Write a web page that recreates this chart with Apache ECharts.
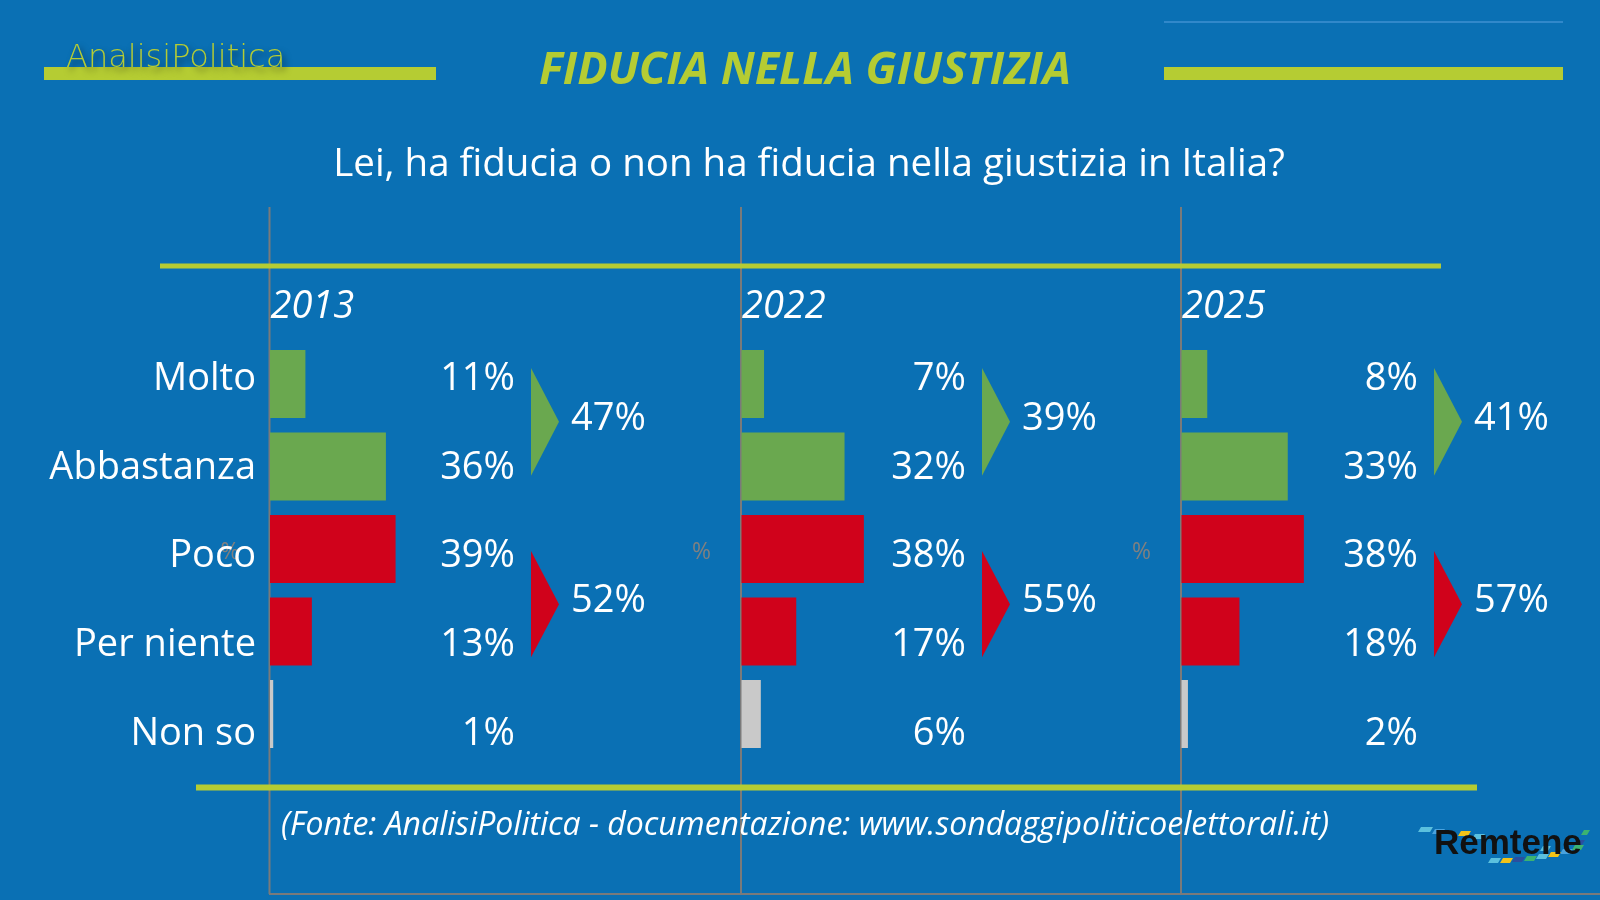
<!DOCTYPE html>
<html><head><meta charset="utf-8">
<script src="https://cdn.jsdelivr.net/npm/echarts@6/dist/echarts.min.js"></script>
<style>html,body{margin:0;padding:0;background:#0a70b4}#c{width:1600px;height:900px}</style>
</head><body><div id="c"></div>
<script>
// ---- data ----
const categories = ['Molto', 'Abbastanza', 'Poco', 'Per niente', 'Non so'];
const years = ['2013', '2022', '2025'];
const values2013 = [11, 36, 39, 13, 1];
const values2022 = [7, 32, 38, 17, 6];
const values2025 = [8, 33, 38, 18, 2];
const fiduciaTot = [47, 39, 41];     // Molto + Abbastanza
const sfiduciaTot = [52, 55, 57];    // Poco + Per niente
const titleText = 'FIDUCIA NELLA GIUSTIZIA';
const subtitleText = 'Lei, ha fiducia o non ha fiducia nella giustizia in Italia?';
const sourceText = '(Fonte: AnalisiPolitica - documentazione: www.sondaggipoliticoelettorali.it)';

// ---- styles / layout ----
const panelValues = [values2013, values2022, values2025];
const GREEN = '#6aa84f', RED = '#d0021b', GREY = '#c9c9c9', LIME = '#b5cc33';
const catColors = [GREEN, GREEN, RED, RED, GREY];
const axisX = [269.5, 741, 1181];
const valueRight = [515, 966, 1418];
const arrowPad = [[-11, 8], [-5.5, 12]];
const FONT = '"Open Sans", "Noto Sans", sans-serif';

const chart = echarts.init(document.getElementById('c'));

const grid = [], xAxis = [], yAxis = [], series = [];
for (let i = 0; i < 3; i++) {
  grid.push({left: axisX[i] + 0.5, top: 342.75, width: 322, height: 412.5});
  const ll = i === 0 ? 264 : axisX[i];
  grid.push({left: ll, top: 334.5, width: valueRight[i] - ll, height: 444});
  xAxis.push({gridIndex: 2 * i, type: 'value', min: 0, max: 100, show: false});
  xAxis.push({gridIndex: 2 * i + 1, type: 'value', min: 0, max: 1, show: false});
  const byi = yAxis.length;
  yAxis.push({gridIndex: 2 * i, type: 'category', data: categories, inverse: true, show: false});
  const lyi = yAxis.length;
  yAxis.push({
    gridIndex: 2 * i + 1, type: 'category', data: categories, inverse: true, position: 'left',
    show: i === 0, axisLine: {show: false}, axisTick: {show: false}, splitLine: {show: false},
    axisLabel: {show: i === 0, color: '#fff', fontSize: 38, fontFamily: FONT, margin: 8}
  });
  const vals = panelValues[i];
  yAxis.push({
    gridIndex: 2 * i + 1, type: 'category', data: categories, inverse: true, position: 'right',
    axisLine: {show: false}, axisTick: {show: false}, splitLine: {show: false},
    axisLabel: {inside: true, margin: 0, align: 'right', color: '#fff', fontSize: 38, fontFamily: FONT,
      formatter: (v, idx) => vals[idx] + '%'}
  });
  series.push({
    type: 'bar', xAxisIndex: 2 * i, yAxisIndex: byi, barWidth: 68, silent: true,
    data: vals.map((v, k) => ({value: v, itemStyle: {color: catColors[k]}}))
  });
  series.push({
    type: 'custom', xAxisIndex: 2 * i + 1, yAxisIndex: lyi, silent: true,
    data: [[fiduciaTot[i], 0, 1, 0], [sfiduciaTot[i], 2, 3, 1]],
    encode: {x: -1, y: 1},
    renderItem: (params, api) => {
      const cs = params.coordSys;
      const g = api.value(3);
      const ya = api.coord([0, api.value(1)])[1];
      const yb = api.coord([0, api.value(2)])[1];
      const top = ya + arrowPad[g][0], bot = yb + arrowPad[g][1], mid = (top + bot) / 2;
      const x0 = cs.x + cs.width + 16;
      const col = g === 0 ? GREEN : RED;
      return {type: 'group', children: [
        {type: 'polygon', shape: {points: [[x0, top], [x0 + 28, mid], [x0, bot]]}, style: {fill: col}},
        {type: 'text', x: x0 + 40, y: mid - 3, style: {text: api.value(0) + '%', fill: '#fff',
          fontSize: 38, fontFamily: FONT, align: 'left', verticalAlign: 'middle'}}
      ]};
    }
  });
}

const graphic = [];
graphic.push({type: 'rect', shape: {x: 44, y: 67, width: 392, height: 13}, style: {fill: LIME}});
graphic.push({type: 'rect', shape: {x: 1164, y: 67, width: 399, height: 13}, style: {fill: LIME}});
graphic.push({type: 'line', shape: {x1: 1164, y1: 22, x2: 1563, y2: 22}, style: {stroke: '#3f91d2', lineWidth: 1.5}});
graphic.push({type: 'text', x: 66, y: 59, style: {text: 'AnalisiPolitica', fill: LIME, fontSize: 32,
  fontFamily: '"DejaVu Sans", sans-serif', fontWeight: 300, verticalAlign: 'middle',
  textShadowColor: 'rgba(0,0,0,0.55)', textShadowBlur: 6, textShadowOffsetX: 3, textShadowOffsetY: 4}});
graphic.push({type: 'text', x: 805, y: 71, style: {text: titleText, fill: LIME, fontSize: 45,
  fontFamily: FONT, fontWeight: 'bold', fontStyle: 'italic', align: 'center', verticalAlign: 'middle'}});
graphic.push({type: 'text', x: 809, y: 165, style: {text: subtitleText, fill: '#fff', fontSize: 38.5,
  fontFamily: FONT, align: 'center', verticalAlign: 'middle'}});
axisX.forEach(x => graphic.push({type: 'line', shape: {x1: x, y1: 207, x2: x, y2: 894}, style: {stroke: '#7a7a7a', lineWidth: 2}}));
graphic.push({type: 'line', shape: {x1: 269, y1: 894, x2: 1600, y2: 894}, style: {stroke: '#7a7a7a', lineWidth: 2}});
graphic.push({type: 'rect', shape: {x: 160, y: 263.5, width: 1281, height: 5}, style: {fill: LIME}});
graphic.push({type: 'rect', shape: {x: 196, y: 784.5, width: 1281, height: 6}, style: {fill: LIME}});
years.forEach((y, i) => {
  graphic.push({type: 'text', x: axisX[i] + 1, y: 307, style: {text: y, fill: '#fff', fontSize: 38,
    fontFamily: FONT, fontStyle: 'italic', align: 'left', verticalAlign: 'middle'}});
  graphic.push({type: 'text', x: axisX[i] - 39.5, y: 552, style: {text: '%', fill: '#808080', fontSize: 23,
    fontFamily: FONT, align: 'center', verticalAlign: 'middle'}});
});
graphic.push({type: 'text', x: 805, y: 825.5, style: {text: sourceText, fill: '#fff', fontSize: 32,
  fontFamily: FONT, fontStyle: 'italic', align: 'center', verticalAlign: 'middle'}});
// Remtene logo decoration
const stripes = [
  ['#5bc0de', 1418, 827, 12], ['#4aa3df', 1432, 829, 10], ['#f2c318', 1458, 831, 10],
  ['#5bc0de', 1472, 834, 10], ['#3cb371', 1581, 830, 6], ['#2a4fa0', 1574, 840, 8],
  ['#5bc0de', 1488, 858, 10], ['#f2c318', 1500, 858, 10], ['#2a4fa0', 1512, 857, 10],
  ['#3cb371', 1524, 856, 10], ['#5bc0de', 1536, 854, 10], ['#f2c318', 1548, 852, 10],
  ['#4aa3df', 1560, 849, 10], ['#3cb371', 1572, 845, 9], ['#5bc0de', 1540, 846, 8]
];
stripes.forEach(s => graphic.push({type: 'polygon',
  shape: {points: [[s[1], s[2] + 5], [s[1] + s[3], s[2] + 5], [s[1] + s[3] + 3, s[2]], [s[1] + 3, s[2]]]},
  style: {fill: s[0]}}));
graphic.push({type: 'text', x: 1434, y: 844, style: {text: 'Remtene', fill: '#111', fontSize: 35,
  fontFamily: '"Liberation Sans", Arial, sans-serif', fontWeight: 'bold', verticalAlign: 'middle'}});

chart.setOption({
  backgroundColor: '#0a70b4',
  animation: false,
  grid, xAxis, yAxis, series, graphic
});
</script>
</body></html>
